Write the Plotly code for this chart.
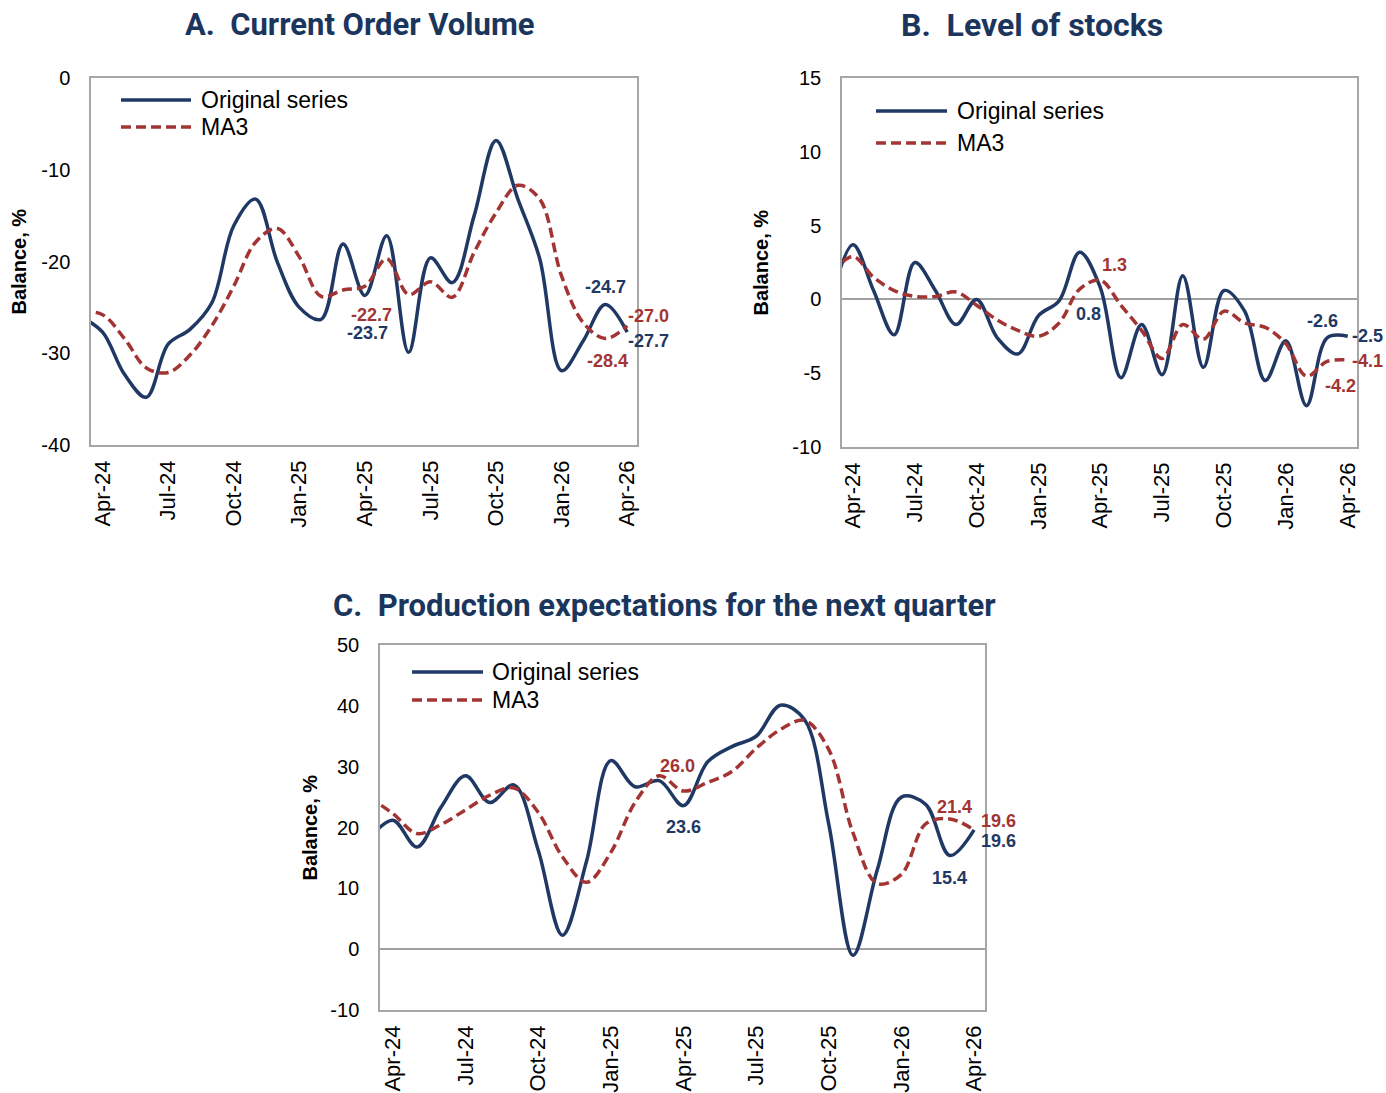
import plotly.graph_objects as go

# ---------------- data ----------------
months = ["Mar-24", "Apr-24", "May-24", "Jun-24", "Jul-24", "Aug-24", "Sep-24", "Oct-24",
          "Nov-24", "Dec-24", "Jan-25", "Feb-25", "Mar-25", "Apr-25", "May-25", "Jun-25",
          "Jul-25", "Aug-25", "Sep-25", "Oct-25", "Nov-25", "Dec-25", "Jan-26", "Feb-26",
          "Mar-26", "Apr-26"]
tick_labels = ["Apr-24", "Jul-24", "Oct-24", "Jan-25", "Apr-25", "Jul-25", "Oct-25", "Jan-26", "Apr-26"]

orders_orig = [-26.0, -27.7, -32.3, -34.8, -29.0, -27.4, -24.5, -16.1, -13.2, -20.1, -25.0, -26.3,
               -18.1, -23.7, -17.2, -29.9, -19.6, -22.3, -15.0, -6.8, -13.2, -19.7, -31.9, -28.6,
               -24.7, -27.7]
orders_ma3 = [-25.4, -25.8, -28.4, -31.6, -32.1, -30.2, -27.0, -22.7, -17.9, -16.4, -19.5, -23.8,
              -23.1, -22.7, -19.7, -23.6, -22.2, -23.9, -19.0, -14.7, -11.7, -13.2, -21.6, -26.7,
              -28.4, -27.0]

stocks_orig = [0.2, 3.7, 0.6, -2.4, 2.5, 0.6, -1.7, 0.0, -2.6, -3.7, -1.1, -0.1,
               3.2, 0.8, -5.3, -1.7, -5.1, 1.6, -4.6, 0.6, -0.8, -5.5, -2.8, -7.2,
               -2.6, -2.5]
stocks_ma3 = [1.8, 2.9, 1.5, 0.6, 0.2, 0.2, 0.5, -0.4, -1.4, -2.1, -2.5, -1.6,
              0.7, 1.3, -0.4, -2.1, -4.0, -1.7, -2.7, -0.8, -1.6, -1.9, -3.0, -5.2,
              -4.2, -4.1]

prod_orig = [18.0, 21.2, 16.8, 23.4, 28.5, 24.1, 27.0, 16.3, 2.3, 14.5, 31.0, 26.7,
             27.7, 23.6, 30.8, 33.3, 35.0, 40.1, 37.7, 20.5, -1.0, 13.0, 25.0, 23.8,
             15.4, 19.6]
prod_ma3 = [25.0, 22.3, 19.0, 20.5, 22.9, 25.3, 26.5, 22.5, 15.2, 11.0, 15.9, 24.1,
            28.5, 26.0, 27.4, 29.2, 33.0, 36.1, 37.6, 32.8, 19.1, 10.8, 12.3, 20.6,
            21.4, 19.6]

titles = ["A.  Current Order Volume", "B.  Level of stocks",
          "C.  Production expectations for the next quarter"]
series_names = ["Original series", "MA3"]
y_title = "Balance, %"

# ---------------- style ----------------
NAVY = "#1F3864"
RED = "#A33434"
TITLE = "#1B365D"
FRAME = "#A6A6A6"
FONT = "Liberation Sans, Arial, sans-serif"
TFONT = "Roboto, Liberation Sans, Arial, sans-serif"
MA_DASH = "10px,5px"

W, H = 1386, 1093


def px_x(p):
    return p / W


def px_y(p):
    return 1 - p / H


panels = [
    dict(orig=orders_orig, ma=orders_ma3, xd=(91, 637), yd=(78, 445), yr=(-40, 0), dt=10,
         zero=False, leg=(121, 191, 199, 100, 127), title_xy=(360, 25), ytitle_x=18,
         title_size=31),
    dict(orig=stocks_orig, ma=stocks_ma3, xd=(842, 1357), yd=(78, 447), yr=(-10, 15), dt=5,
         zero=True, leg=(876, 947, 955, 111, 143), title_xy=(1032, 25), ytitle_x=760,
         title_size=32),
    dict(orig=prod_orig, ma=prod_ma3, xd=(380, 985), yd=(645, 1010), yr=(-10, 50), dt=10,
         zero=True, leg=(412, 483, 490, 672, 700), title_xy=(664, 605), ytitle_x=309,
         title_size=31),
]

fig = go.Figure()
annotations = []
shapes = []

for i, p in enumerate(panels):
    n = "" if i == 0 else str(i + 1)
    fig.add_trace(go.Scatter(
        x=months, y=p["orig"], name=series_names[0], mode="lines",
        line=dict(color=NAVY, width=3.5, shape="spline", smoothing=1.0),
        xaxis="x" + n, yaxis="y" + n, showlegend=False, hoverinfo="x+y"))
    fig.add_trace(go.Scatter(
        x=months, y=p["ma"], name=series_names[1], mode="lines",
        line=dict(color=RED, width=3.5, shape="spline", smoothing=1.0, dash=MA_DASH),
        xaxis="x" + n, yaxis="y" + n, showlegend=False, hoverinfo="x+y"))

    yt = list(range(p["yr"][0], p["yr"][1] + 1, p["dt"]))
    fig.update_layout(**{
        "xaxis" + n: dict(
            domain=[px_x(p["xd"][0]), px_x(p["xd"][1])], anchor="y" + n,
            type="category", range=[0.47, 25.45], tickmode="array", tickvals=tick_labels,
            ticktext=tick_labels, tickangle=-90, ticks="", showgrid=False, zeroline=False,
            showline=True, mirror=True, linecolor=FRAME, linewidth=1.5,
            tickfont=dict(family=FONT, size=22, color="#000"), ticklabelstandoff=5,
            automargin=False),
        "yaxis" + n: dict(
            domain=[px_y(p["yd"][1]), px_y(p["yd"][0])], anchor="x" + n,
            range=list(p["yr"]), tickmode="array", tickvals=yt, ticktext=[str(v) for v in yt],
            ticks="", showgrid=False,
            zeroline=p["zero"], zerolinecolor="#A0A0A0", zerolinewidth=2,
            showline=True, mirror=True, linecolor=FRAME, linewidth=1.5,
            tickfont=dict(family=FONT, size=20, color="#000"), ticklabelstandoff=15,
            automargin=False),
    })

    # subplot title and y-axis title
    annotations.append(dict(
        text=f"<b>{titles[i]}</b>", x=px_x(p["title_xy"][0]), y=px_y(p["title_xy"][1]),
        xref="paper", yref="paper", xanchor="center", yanchor="middle", showarrow=False,
        font=dict(family=TFONT, size=p["title_size"], color=TITLE)))
    annotations.append(dict(
        text=f"<b>{y_title}</b>", x=px_x(p["ytitle_x"]),
        y=px_y((p["yd"][0] + p["yd"][1]) / 2), xref="paper", yref="paper",
        xanchor="center", yanchor="middle", textangle=-90, showarrow=False,
        font=dict(family=FONT, size=20, color="#000")))

    # legend (drawn inside the plot area, top-left)
    x0, x1, xt, yo, ym = p["leg"]
    for (yy, col, dash, name) in [(yo, NAVY, "solid", series_names[0]),
                                  (ym, RED, MA_DASH, series_names[1])]:
        shapes.append(dict(type="line", xref="paper", yref="paper",
                           x0=px_x(x0), x1=px_x(x1), y0=px_y(yy), y1=px_y(yy),
                           line=dict(color=col, width=3.5, dash=dash)))
        annotations.append(dict(
            text=name, x=px_x(xt), y=px_y(yy), xref="paper", yref="paper",
            xanchor="left", yanchor="middle", showarrow=False,
            font=dict(family=FONT, size=23, color="#000")))

# data labels: (panel, series, month, xshift, yshift)
label_specs = [
    (0, "ma", "Apr-25", 7, -29), (0, "orig", "Apr-25", 3, -38),
    (0, "orig", "Mar-26", 0, 18), (0, "ma", "Mar-26", 2, -22),
    (0, "ma", "Apr-26", 21, 10), (0, "orig", "Apr-26", 21, -9),
    (1, "ma", "Apr-25", 14, 15), (1, "orig", "Apr-25", -12, -26),
    (1, "orig", "Mar-26", -5, 17), (1, "orig", "Apr-26", 20, 0),
    (1, "ma", "Apr-26", 20, -1), (1, "ma", "Mar-26", 13, -25),
    (2, "ma", "Apr-25", -6, 25), (2, "orig", "Apr-25", 0, -21),
    (2, "ma", "Mar-26", 5, 12), (2, "orig", "Mar-26", 0, -23),
    (2, "ma", "Apr-26", 24, 9), (2, "orig", "Apr-26", 24, -11),
]
for pi, s, m, dx, dy in label_specs:
    n = "" if pi == 0 else str(pi + 1)
    val = panels[pi][s][months.index(m)]
    annotations.append(dict(
        text=f"<b>{val:.1f}</b>", x=m, y=val, xref="x" + n, yref="y" + n,
        xshift=dx, yshift=dy, showarrow=False, xanchor="center", yanchor="middle",
        font=dict(family=FONT, size=18, color=NAVY if s == "orig" else RED)))

fig.update_layout(
    width=W, height=H, margin=dict(l=0, r=0, t=0, b=0),
    paper_bgcolor="white", plot_bgcolor="white",
    annotations=annotations, shapes=shapes, showlegend=False,
)

fig.write_html("out.html",
               config={"displayModeBar": False},
               post_script="document.body.style.margin='0px';"
                           "document.body.style.overflow='hidden';")
